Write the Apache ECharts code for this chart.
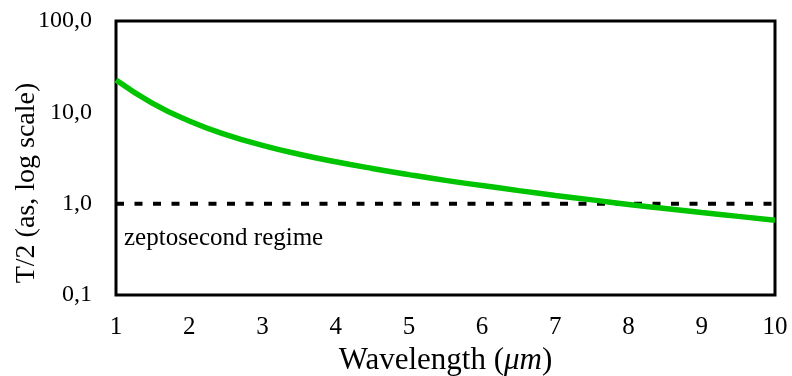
<!DOCTYPE html>
<html>
<head>
<meta charset="utf-8">
<script src="https://cdn.jsdelivr.net/npm/echarts@6/dist/echarts.min.js"></script>
<style>
  html, body { margin: 0; padding: 0; background: #fff; }
  #chart { width: 792px; height: 376px; }
</style>
</head>
<body>
<div id="chart"></div>
<script>
// Wavelength in micrometres
const wavelength = [1, 1.5, 2, 2.5, 3, 3.5, 4, 4.5, 5, 5.5, 6, 6.5, 7, 7.5, 8, 8.5, 9, 9.5, 10];
// Half optical period T/2 in attoseconds
const halfPeriod = [22.6, 12.56, 8.05, 5.70, 4.35, 3.48, 2.88, 2.43, 2.08, 1.80, 1.58, 1.39, 1.23, 1.10, 0.98, 0.885, 0.80, 0.726, 0.66];
// 1 as threshold marking the zeptosecond regime
const thresholdX = [1, 10];
const thresholdY = [1, 1];
const yTickValues = [0.1, 1, 10, 100];
const yTickLabels = ['0,1', '1,0', '10,0', '100,0'];
const xTickLabels = ['1', '2', '3', '4', '5', '6', '7', '8', '9', '10'];
const yTitle = 'T/2 (as, log scale)';
const regimeLabel = 'zeptosecond regime';

const serif = '"Liberation Serif", "DejaVu Serif", serif';

const chart = echarts.init(document.getElementById('chart'));
chart.setOption({
  animation: false,
  grid: {
    left: 116, right: 17, top: 21, bottom: 81,
    outerBoundsMode: 'none', containLabel: false,
    show: true, borderColor: '#000', borderWidth: 3
  },
  xAxis: {
    type: 'value', min: 1, max: 10, interval: 1,
    axisLine: { show: false }, axisTick: { show: false }, splitLine: { show: false },
    axisLabel: {
      color: '#000', fontFamily: serif, fontSize: 25, margin: 20,
      formatter: v => xTickLabels[Math.round(v) - 1] || ''
    },
    name: '{n|Wavelength (}{i|μm}{n|)}',
    nameLocation: 'middle', nameGap: 49,
    nameTextStyle: {
      rich: {
        n: { fontFamily: serif, fontSize: 31, color: '#000' },
        i: { fontFamily: serif, fontSize: 31, color: '#000', fontStyle: 'italic' }
      }
    }
  },
  yAxis: {
    type: 'log', logBase: 10, min: 0.1, max: 100,
    axisLine: { show: false }, axisTick: { show: false }, splitLine: { show: false },
    axisLabel: {
      color: '#000', fontFamily: serif, fontSize: 24, margin: 24,
      formatter: v => {
        const k = yTickValues.findIndex(t => Math.abs(t - v) / t < 1e-6);
        return k >= 0 ? yTickLabels[k] : '';
      }
    }
  },
  series: [
    {
      type: 'line',
      data: thresholdX.map((x, i) => [x, thresholdY[i]]),
      symbol: 'none',
      lineStyle: { color: '#000', width: 4, type: [8, 10.5] },
      z: 2
    },
    {
      type: 'line',
      data: wavelength.map((x, i) => [x, halfPeriod[i]]),
      symbol: 'none', smooth: true,
      lineStyle: { color: '#00c400', width: 5.5 },
      z: 3
    }
  ],
  graphic: [
    {
      type: 'text', x: 27, y: 183, rotation: Math.PI / 2,
      style: {
        text: yTitle, fontFamily: serif, fontSize: 28, fill: '#000',
        align: 'center', verticalAlign: 'middle'
      }
    },
    {
      type: 'text', left: 124, top: 226,
      style: { text: regimeLabel, fontFamily: serif, fontSize: 25, fill: '#000' }
    }
  ]
});
</script>
</body>
</html>
